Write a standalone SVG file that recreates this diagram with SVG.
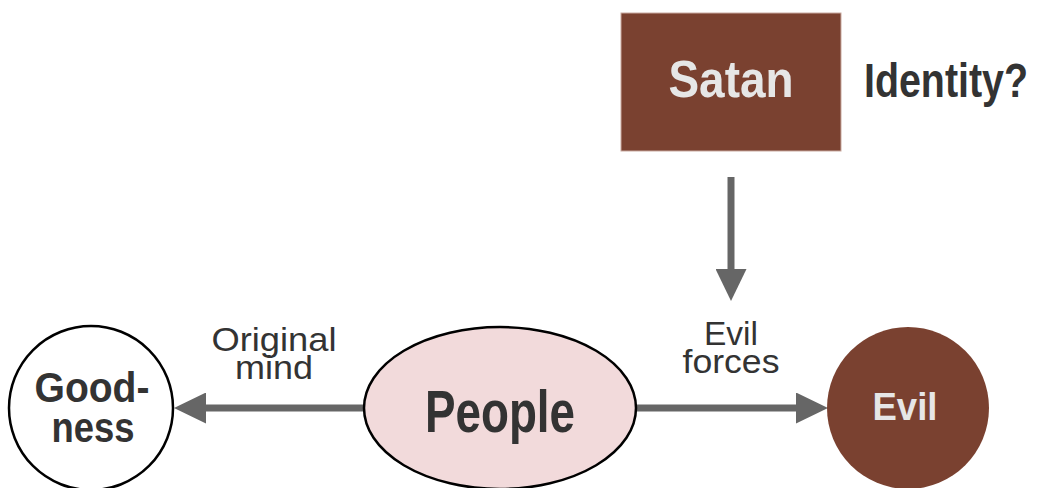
<svg xmlns="http://www.w3.org/2000/svg" width="1044" height="488" viewBox="0 0 1044 488">
  <style>
    .node-text { font-family: "Liberation Sans", Arial, sans-serif; font-weight: bold; text-anchor: middle; }
    .label { font-family: "Liberation Sans", Arial, sans-serif; font-size: 33px; fill: #333333; text-anchor: middle; }
    .conn { stroke: #666666; stroke-width: 7; fill: none; }
    .brown { fill: #7a4130; }
  </style>
  <defs>
    <marker id="head" markerUnits="userSpaceOnUse" markerWidth="33" markerHeight="31" refX="1" refY="15.5" orient="auto">
      <path d="M0,0 L32,15.5 L0,31 Z" fill="#666666"/>
    </marker>
  </defs>
  <rect width="1044" height="488" fill="#ffffff"/>

  <g id="connectors">
    <line class="conn" x1="731" y1="177" x2="731" y2="270" marker-end="url(#head)"/>
    <line class="conn" x1="637" y1="408" x2="797" y2="408" marker-end="url(#head)"/>
    <line class="conn" x1="364" y1="408" x2="205" y2="408" marker-end="url(#head)"/>
  </g>

  <g id="label-original-mind">
    <text class="label" x="274" y="351" textLength="125" lengthAdjust="spacingAndGlyphs">Original</text>
    <text class="label" x="274" y="379" textLength="78" lengthAdjust="spacingAndGlyphs">mind</text>
  </g>
  <g id="label-evil-forces">
    <text class="label" x="731" y="345" textLength="54" lengthAdjust="spacingAndGlyphs">Evil</text>
    <text class="label" x="731" y="373" textLength="97" lengthAdjust="spacingAndGlyphs">forces</text>
  </g>

  <g id="node-satan">
    <rect class="brown" x="621" y="13" width="220" height="138" stroke="#c9aaa0" stroke-width="1"/>
    <text class="node-text" x="731" y="97" font-size="52" fill="#e6e6e6" textLength="125" lengthAdjust="spacingAndGlyphs">Satan</text>
  </g>

  <g id="node-identity">
    <text class="node-text" x="946" y="97" font-size="49" fill="#333333" textLength="164" lengthAdjust="spacingAndGlyphs">Identity?</text>
  </g>

  <g id="node-goodness">
    <circle cx="91" cy="408" r="82" fill="#ffffff" stroke="#000000" stroke-width="2.5"/>
    <text class="node-text" x="92" y="402" font-size="42" fill="#333333" textLength="115" lengthAdjust="spacingAndGlyphs">Good-</text>
    <text class="node-text" x="93" y="442" font-size="42" fill="#333333" textLength="83" lengthAdjust="spacingAndGlyphs">ness</text>
  </g>

  <g id="node-people">
    <ellipse cx="500" cy="408" rx="136" ry="81" fill="#f2dadb" stroke="#000000" stroke-width="2.5"/>
    <text class="node-text" x="500" y="432" font-size="60" fill="#333333" textLength="150" lengthAdjust="spacingAndGlyphs">People</text>
  </g>

  <g id="node-evil">
    <circle class="brown" cx="908" cy="408" r="81"/>
    <text class="node-text" x="905" y="420" font-size="39" fill="#e6e6e6" textLength="65" lengthAdjust="spacingAndGlyphs">Evil</text>
  </g>
</svg>
